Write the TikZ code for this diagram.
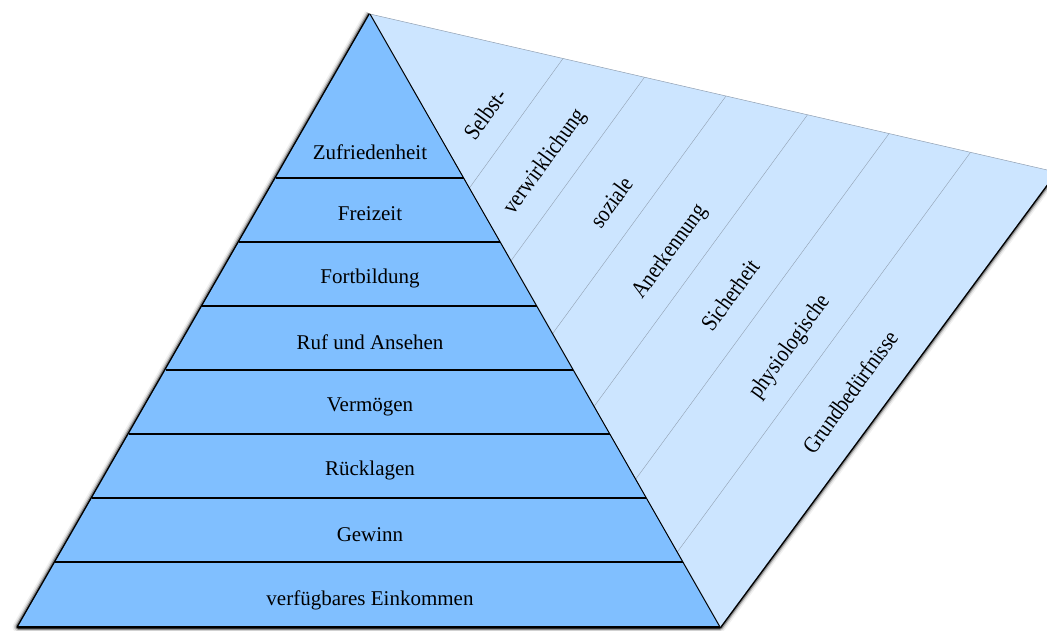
\documentclass[tikz,border=0pt]{standalone}
\usepackage{fontspec}
\setmainfont{Liberation Serif}
\newfontfamily\needfont[FakeStretch=0.86]{Liberation Serif}
\usetikzlibrary{positioning}

\definecolor{pyrBlue}{RGB}{128,191,255}
\definecolor{needBlue}{RGB}{204,229,255}
\definecolor{stripLine}{RGB}{145,160,178}

\begin{document}
\begin{tikzpicture}[x=1pt, y=-1pt,
    band/.style={font=\fontsize{21}{25}\selectfont},
    need/.style={rotate=54, font=\needfont\fontsize{23.5}{27}\selectfont}]
    \useasboundingbox (0,0) rectangle (1047,630);
    \clip (0,0) rectangle (1047,630);

    % soft shadow around the outline
    \draw[line width=11pt, black!6, line join=round] (1056,172) -- (720,627) -- (18,627) -- (370,14);
    \draw[line width=8pt, black!18, line join=round] (1056,172) -- (720,627) -- (18,627) -- (370,14);
    \draw[line width=5.5pt, black!45, line join=round] (1056,172) -- (720,627) -- (18,627) -- (370,14);
    \draw[line width=3pt, black, line join=round] (1056,172) -- (720,627) -- (18,627) -- (370,14);

    % needs area
    \fill[needBlue] (370,14) -- (1056,172) -- (720,627) -- cycle;
    \draw[stripLine, line width=0.5pt] (370,14) -- (1056,172);
    \draw[stripLine, line width=0.4pt] (469.4,188) -- (563,58.5);
    \draw[stripLine, line width=0.4pt] (511.0,260.8) -- (644.5,77.2);
    \draw[stripLine, line width=0.4pt] (552.6,333.6) -- (726,96.0);
    \draw[stripLine, line width=0.4pt] (594.1,406.4) -- (807.5,114.8);
    \draw[stripLine, line width=0.4pt] (635.7,479.2) -- (889,133.6);
    \draw[stripLine, line width=0.4pt] (677.3,552) -- (970.5,152.3);

    % pyramid
    \fill[pyrBlue] (370,14) -- (18,627) -- (720,627) -- cycle;
    \draw[black, line width=1pt] (370,14) -- (720,627);
    \draw[black, line width=2pt] (275.8,178) -- (463.6,178);
    \draw[black, line width=2pt] (239.1,242) -- (500.2,242);
    \draw[black, line width=2pt] (202.3,306) -- (536.7,306);
    \draw[black, line width=2pt] (165.6,370) -- (573.3,370);
    \draw[black, line width=2pt] (128.8,434) -- (609.8,434);
    \draw[black, line width=2pt] (92.1,498) -- (646.4,498);
    \draw[black, line width=2pt] (55.3,562) -- (682.9,562);
    \draw[black, line width=2.5pt] (18,627) -- (720,627);

    \node[band] (zufrieden) at (370,152) {Zufriedenheit};
    \node[band] (freizeit) at (370,214) {Freizeit};
    \node[band] (fortbildung) at (370,278) {Fortbildung};
    \node[band] (ruf) at (370,342) {Ruf und Ansehen};
    \node[band] (vermoegen) at (370,407) {Vermögen};
    \node[band] (ruecklagen) at (370,470) {Rücklagen};
    \node[band] (gewinn) at (370,535) {Gewinn};
    \node[band] (einkommen) at (370,600) {verfügbares Einkommen};

    \node[need] (selbst) at (485,114) {Selbst-};
    \node[need] (verwirkl) at (545,162) {verwirklichung};
    \node[need] (soziale) at (611,202) {soziale};
    \node[need] (anerk) at (670,252) {Anerkennung};
    \node[need] (sicher) at (730,295) {Sicherheit};
    \node[need] (physio) at (790,347) {physiologische};
    \node[need] (grund) at (850,392) {Grundbedürfnisse};
\end{tikzpicture}
\end{document}
